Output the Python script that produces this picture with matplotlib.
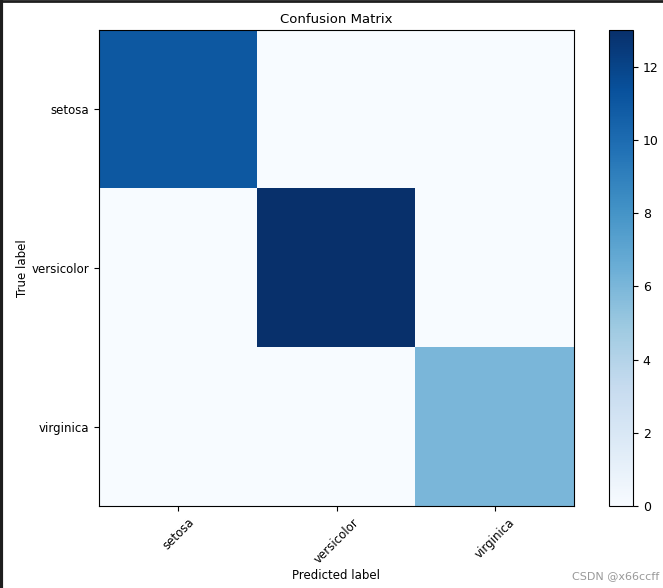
import numpy as np
import matplotlib
matplotlib.use("Agg")
import matplotlib.pyplot as plt
from matplotlib.lines import Line2D

classes = ["setosa", "versicolor", "virginica"]
cm = np.array([[11, 0, 0],
               [0, 13, 0],
               [0, 0, 6]])

plt.rcParams["font.size"] = 9

fig = plt.figure(figsize=(6.63, 5.88), dpi=100)
ax = fig.add_axes([99/663, 82/588, 475/663, 476/588])
cax = fig.add_axes([609/663, 82/588, 24/663, 476/588])

im = ax.imshow(cm, interpolation="nearest", cmap=plt.cm.Blues, aspect="auto")
ax.set_title("Confusion Matrix", fontsize=9.5, pad=5)
cb = fig.colorbar(im, cax=cax)
cb.set_ticks([0, 2, 4, 6, 8, 10, 12])
cax.tick_params(labelsize=9)

ticks = np.arange(len(classes))
ax.set_xticks(ticks)
ax.set_xticklabels(classes, rotation=45, fontsize=8.5)
ax.set_yticks(ticks)
ax.set_yticklabels(classes, fontsize=8.5)
ax.set_ylabel("True label", fontsize=8.5, labelpad=2)
ax.set_xlabel("Predicted label", fontsize=8.5, labelpad=2)

# screenshot frame (dark edge at left and top)
fig.add_artist(Line2D([0.002, 0.002], [0, 1], transform=fig.transFigure, color="#1e1e1e", lw=3))
fig.add_artist(Line2D([0, 1], [0.999, 0.999], transform=fig.transFigure, color="#1e1e1e", lw=2))

fig.text(0.995, 0.012, "CSDN @x66ccff", ha="right", va="bottom", color="#999999", fontsize=8)

fig.savefig("out.png", dpi=100)
